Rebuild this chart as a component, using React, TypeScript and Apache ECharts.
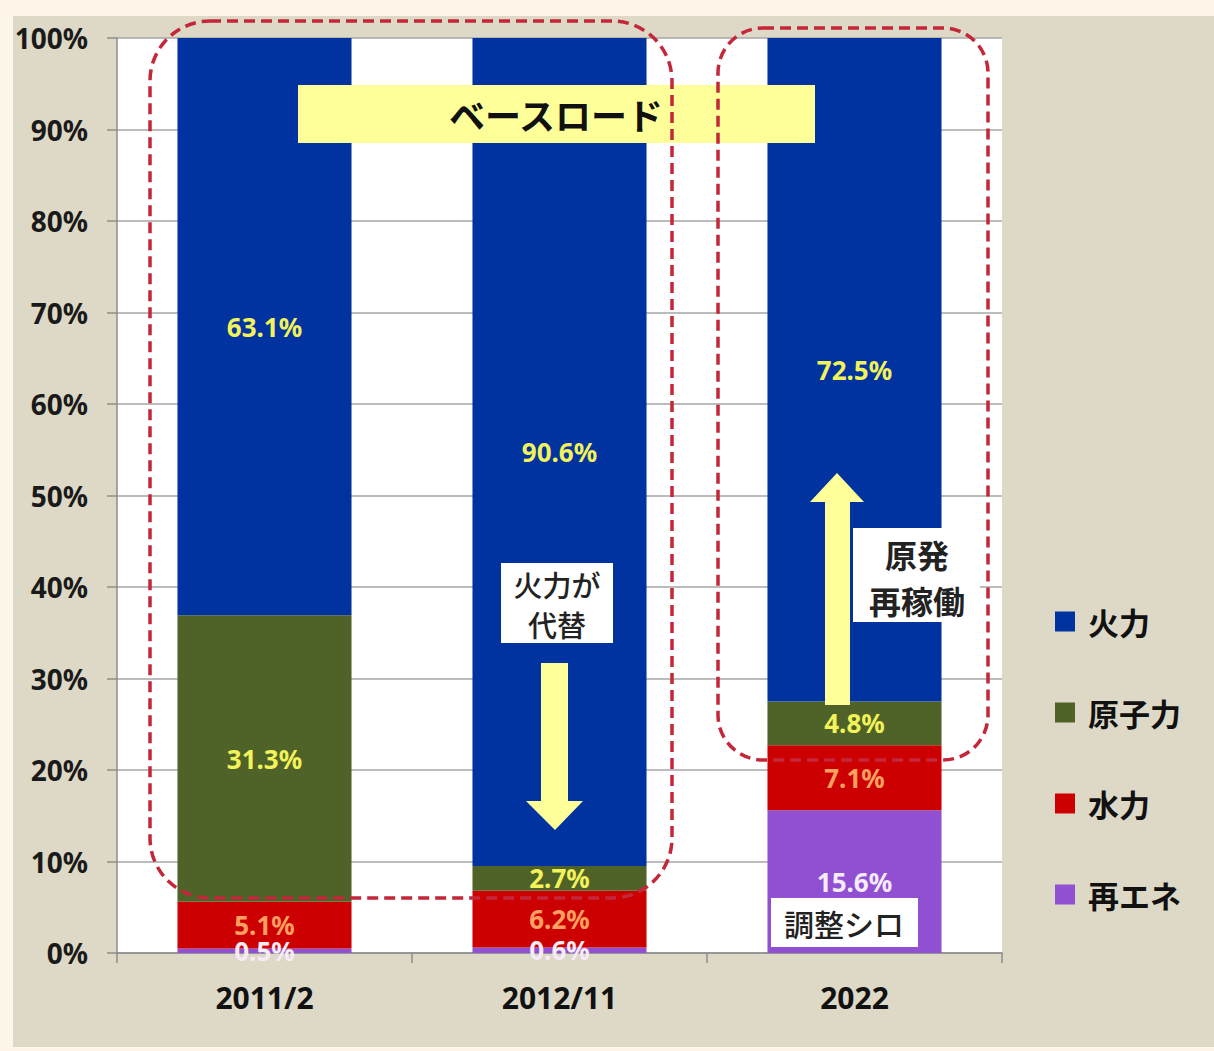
import React, { useEffect, useRef } from "react";
import * as echarts from "echarts";

const categories = ["2011/2", "2012/11", "2022"];
const seriesNames = ["再エネ", "水力", "原子力", "火力"];
const renewables = [0.5, 0.6, 15.6];
const hydro = [5.1, 6.2, 7.1];
const nuclear = [31.3, 2.7, 4.8];
const thermal = [63.1, 90.6, 72.5];
const legendOrder = ["火力", "原子力", "水力", "再エネ"];

const FONT = "'Noto Sans', 'Noto Sans CJK JP', sans-serif";
const CJK = "'Noto Sans CJK JP', 'Noto Sans', sans-serif";

export default function App() {
  const ref = useRef<HTMLDivElement>(null);
  useEffect(() => {
    document.body.style.margin = "0";
    const chart = echarts.init(ref.current!, null, { renderer: "svg" });
    const values = [renewables, hydro, nuclear, thermal];
    const colors = ["#9150D2", "#CC0000", "#4F6228", "#0033A0"];
    const labelColors = ["#F6ECF8", "#FFA060", "#F2F25A", "#F2F25A"];
    const series = seriesNames.map((name, i) => ({
      name,
      type: "bar",
      stack: "total",
      barWidth: "59%",
      data: values[i],
      itemStyle: { color: colors[i] },
      label: {
        show: true,
        position: "inside",
        formatter: (p: any) => p.value.toFixed(1) + "%",
        color: labelColors[i],
        fontSize: 26,
        fontWeight: "bold",
        fontFamily: FONT,
      },
    }));

    const dashStyle = {
      fill: "none",
      stroke: "#C4263A",
      lineWidth: 3.5,
      lineDash: [11, 6],
    };
    const arrowFill = "#FFFF99";

    chart.setOption({
      animation: false,
      backgroundColor: "#FEF6E8",
      textStyle: { fontFamily: FONT },
      grid: { left: 117, top: 38, width: 885, height: 915, show: true, backgroundColor: "#ffffff", borderWidth: 0 },
      legend: {
        data: legendOrder,
        orient: "vertical",
        left: 1055,
        top: 606,
        padding: 0,
        icon: "rect",
        itemWidth: 20,
        itemHeight: 20,
        itemGap: 60,
        selectedMode: false,
        textStyle: { fontSize: 31, fontWeight: "bold", color: "#111", fontFamily: CJK, padding: [0, 0, 0, 8] },
      },
      xAxis: {
        type: "category",
        data: categories,
        axisLine: { show: true, lineStyle: { color: "#8C8C8C", width: 1.5 } },
        axisTick: { show: true, length: 10, lineStyle: { color: "#8C8C8C", width: 1.5 } },
        axisLabel: { fontSize: 30, fontWeight: "bold", color: "#111", margin: 29, fontFamily: FONT },
      },
      yAxis: {
        type: "value",
        min: 0,
        max: 100,
        interval: 10,
        axisLine: { show: true, lineStyle: { color: "#8C8C8C", width: 1.5 } },
        axisTick: { show: true, length: 10, lineStyle: { color: "#8C8C8C", width: 1.5 } },
        axisLabel: { formatter: "{value}%", fontSize: 28, fontWeight: "bold", color: "#1a1a1a", margin: 29, fontFamily: FONT },
        splitLine: { show: true, lineStyle: { color: "#A6A6A6", width: 1.5 } },
      },
      series,
      graphic: [
        { type: "rect", z: -10, silent: true, shape: { x: 13, y: 16, width: 1201, height: 1031 }, style: { fill: "#DDD9C6" } },
        // Base-load label
        { type: "rect", z: 100, shape: { x: 298, y: 85, width: 517, height: 58 }, style: { fill: "#FFFF99" } },
        { type: "text", z: 101, style: { text: "ベースロード", x: 556, y: 114, textAlign: "center", textVerticalAlign: "middle", font: `bold 36px ${CJK}`, fill: "#111" } },
        // dashed frames
        { type: "rect", z: 102, shape: { x: 150, y: 21, width: 522, height: 877, r: 60 }, style: dashStyle },
        { type: "rect", z: 102, shape: { x: 718, y: 28, width: 270, height: 732, r: 45 }, style: dashStyle },
        // 火力が代替
        { type: "rect", z: 100, shape: { x: 501, y: 563, width: 112, height: 80 }, style: { fill: "#ffffff" } },
        { type: "text", z: 101, style: { text: "火力が", x: 557, y: 584, textAlign: "center", textVerticalAlign: "middle", font: `500 29px ${CJK}`, fill: "#222" } },
        { type: "text", z: 101, style: { text: "代替", x: 557, y: 624, textAlign: "center", textVerticalAlign: "middle", font: `500 29px ${CJK}`, fill: "#222" } },
        { type: "polygon", z: 100, shape: { points: [[541, 663], [568, 663], [568, 801], [583, 801], [555, 830], [526, 801], [541, 801]] }, style: { fill: arrowFill } },
        // 原発再稼働
        { type: "polygon", z: 100, shape: { points: [[825, 705], [850, 705], [850, 502], [864, 502], [837, 473], [810, 502], [825, 502]] }, style: { fill: arrowFill } },
        { type: "rect", z: 100, shape: { x: 853, y: 528, width: 127, height: 94 }, style: { fill: "#ffffff" } },
        { type: "text", z: 101, style: { text: "原発", x: 917, y: 554, textAlign: "center", textVerticalAlign: "middle", font: `bold 32px ${CJK}`, fill: "#222" } },
        { type: "text", z: 101, style: { text: "再稼働", x: 917, y: 600, textAlign: "center", textVerticalAlign: "middle", font: `bold 32px ${CJK}`, fill: "#222" } },
        // 調整シロ
        { type: "rect", z: 100, shape: { x: 771, y: 898, width: 147, height: 49 }, style: { fill: "#ffffff" } },
        { type: "text", z: 101, style: { text: "調整シロ", x: 844, y: 923, textAlign: "center", textVerticalAlign: "middle", font: `500 30px ${CJK}`, fill: "#222" } },
      ],
    });
    return () => chart.dispose();
  }, []);
  return <div ref={ref} style={{ width: 1214, height: 1051 }} />;
}
